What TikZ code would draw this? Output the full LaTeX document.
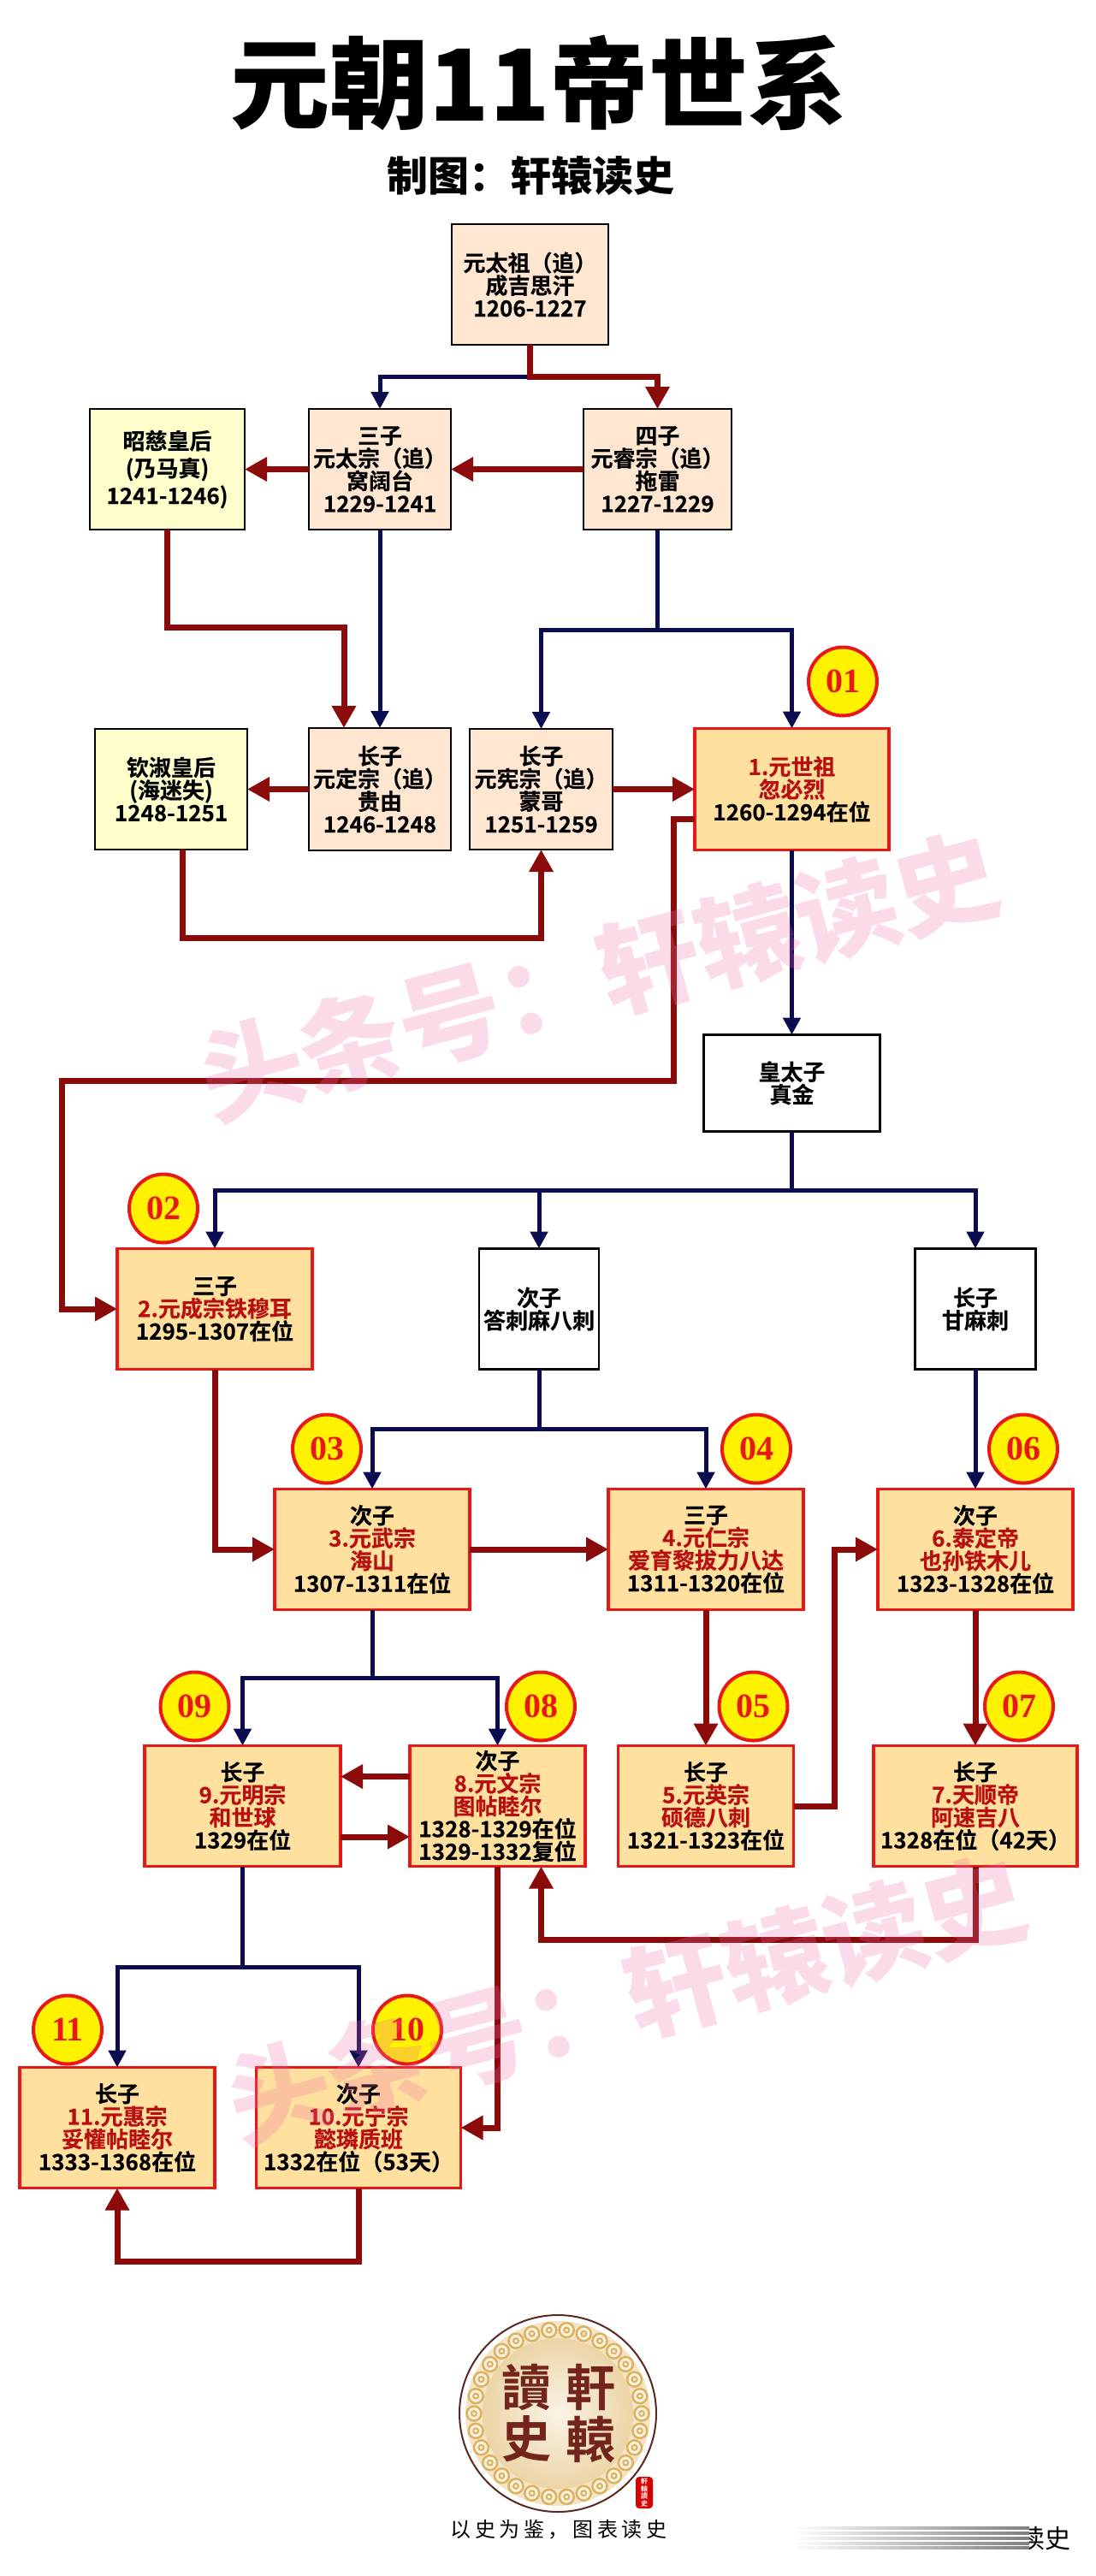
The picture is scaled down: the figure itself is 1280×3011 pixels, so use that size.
\documentclass[tikz,border=0pt]{standalone}
\usepackage{fontspec}
\usepackage{xcolor}
\usetikzlibrary{arrows.meta,positioning}
\setmainfont{Noto Sans CJK SC}
\newfontfamily\boxfont{Noto Sans CJK SC Bold}[FakeBold=0.3]
\newfontfamily\heavyfont{Noto Sans CJK SC Black}
\newfontfamily\logofont{Noto Sans CJK TC Bold}
\newfontfamily\badgefont{Liberation Serif}
\definecolor{LineageNavy}{HTML}{0B0B4F}
\definecolor{LineageRed}{HTML}{8B0A0A}
\definecolor{ReignRed}{HTML}{E81818}
\definecolor{ReignText}{HTML}{B81010}
\definecolor{ReignFill}{HTML}{FFE09E}
\definecolor{PeachFill}{HTML}{FFE6D0}
\definecolor{QueenFill}{HTML}{FFFFCC}
\definecolor{StampPink}{HTML}{F06AA8}
\definecolor{LogoBrown}{HTML}{5A2A20}
\definecolor{LogoGold}{HTML}{DDB25E}
\newcommand{\rname}[1]{\textcolor{ReignText}{#1}}

\begin{document}
\begin{tikzpicture}[
  x=1pt, y=1pt,
  kinbox/.style={
    draw=black,
    fill=white,
    line width=2.5pt,
    align=center,
    inner sep=0pt,
    outer sep=0pt,
    minimum height=141pt,
    font=\boxfont\fontsize{26}{26.5}\selectfont
  },
  peachbox/.style={kinbox, fill=PeachFill},
  queenbox/.style={kinbox, fill=QueenFill},
  reignbox/.style={kinbox, draw=ReignRed, fill=ReignFill, line width=3.5pt},
  badge/.style={
    circle,
    draw=ReignRed,
    fill=yellow,
    line width=4pt,
    inner sep=0pt,
    outer sep=0pt,
    minimum size=80pt,
    text=ReignRed,
    font=\badgefont\bfseries\fontsize{40}{40}\selectfont
  },
  kinarrow/.style={-{Triangle[length=20pt,width=20pt]}, line width=5pt, draw=LineageNavy},
  succarrow/.style={-{Triangle[length=26pt,width=27pt]}, line width=7pt, draw=LineageRed},
  stamp/.style={
    rotate=15,
    text=StampPink,
    text opacity=0.25,
    inner sep=0pt,
    font=\heavyfont\fontsize{120}{120}\selectfont
  },
  logochar/.style={text=LogoBrown!85!red, inner sep=0pt, font=\logofont\fontsize{58}{58}\selectfont},
  streak/.style={left color=white, middle color=black!12, right color=black!50}
]
\useasboundingbox (0,0) rectangle (1280,-3011);

\node[inner sep=0pt, font=\heavyfont\fontsize{116}{116}\selectfont] (title) at (630,-97) {元朝11帝世系};
\node[inner sep=0pt, below=29pt of title, xshift=-10pt, font=\heavyfont\fontsize{48}{48}\selectfont] (maker) {制图：轩辕读史};

\node[peachbox, minimum width=183pt] (taizu) at (619.5,-332.5) {元太祖（追）\\成吉思汗\\1206-1227};
\node[peachbox, minimum width=166pt, below=75pt of taizu, xshift=-175.5pt] (taizong) {三子\\元太宗（追）\\窝阔台\\1229-1241};
\node[peachbox, minimum width=173pt, below=75pt of taizu, xshift=149pt] (ruizong) {四子\\元睿宗（追）\\拖雷\\1227-1229};
\node[queenbox, minimum width=181pt, left=75pt of taizong, font=\boxfont\fontsize{26}{32}\selectfont] (zhaoci) {昭慈皇后\\(乃马真)\\1241-1246)};
\node[peachbox, minimum width=166pt, minimum height=143pt, below=232pt of taizong] (dingzong) {长子\\元定宗（追）\\贵由\\1246-1248};
\node[queenbox, minimum width=178pt, left=72pt of dingzong] (qinshu) {钦淑皇后\\(海迷失)\\1248-1251};
\node[peachbox, minimum width=167pt, right=22pt of dingzong] (xianzong) {长子\\元宪宗（追）\\蒙哥\\1251-1259};
\node[reignbox, minimum width=227pt, minimum height=142pt, right=96pt of xianzong] (shizu) {\rname{1.元世祖}\\\rname{忽必烈}\\1260-1294在位};
\node[kinbox, minimum width=206pt, minimum height=113pt, below=216pt of shizu] (zhenjin) {皇太子\\真金};
\node[kinbox, minimum width=140pt, below=137pt of zhenjin, xshift=-295.5pt] (dala) {次子\\答刺麻八刺};
\node[reignbox, minimum width=228pt, left=195pt of dala] (chengzong) {三子\\\rname{2.元成宗铁穆耳}\\1295-1307在位};
\node[kinbox, minimum width=141pt, right=369.5pt of dala] (ganmala) {长子\\甘麻刺};
\node[reignbox, minimum width=228pt, below=140pt of chengzong, xshift=184pt] (wuzong) {次子\\\rname{3.元武宗}\\\rname{海山}\\1307-1311在位};
\node[reignbox, minimum width=228pt, right=162pt of wuzong] (renzong) {三子\\\rname{4.元仁宗}\\\rname{爱育黎拔力八达}\\1311-1320在位};
\node[reignbox, minimum width=228pt, right=87pt of renzong] (taiding) {次子\\\rname{6.泰定帝}\\\rname{也孙铁木儿}\\1323-1328在位};
\node[reignbox, minimum width=229pt, below=159pt of wuzong, xshift=-151.5pt] (mingzong) {长子\\\rname{9.元明宗}\\\rname{和世球}\\1329在位};
\node[reignbox, minimum width=205pt, right=81pt of mingzong] (wenzong) {次子\\\rname{8.元文宗}\\\rname{图帖睦尔}\\1328-1329在位\\1329-1332复位};
\node[reignbox, minimum width=205pt, right=38.5pt of wenzong] (yingzong) {长子\\\rname{5.元英宗}\\\rname{硕德八刺}\\1321-1323在位};
\node[reignbox, minimum width=238pt, right=93.5pt of yingzong] (tianshun) {长子\\\rname{7.天顺帝}\\\rname{阿速吉八}\\1328在位（42天）};
\node[reignbox, minimum width=228pt, below=235pt of mingzong, xshift=-146.5pt] (huizong) {长子\\\rname{11.元惠宗}\\\rname{妥懽帖睦尔}\\1333-1368在位};
\node[reignbox, minimum width=239pt, right=48.5pt of huizong] (ningzong) {次子\\\rname{10.元宁宗}\\\rname{懿璘质班}\\1332在位（53天）};

\node[badge, above=15pt of shizu, xshift=59.5pt] (badge01) {01};
\node[badge, above=7pt of chengzong, xshift=-60pt] (badge02) {02};
\node[badge, above=7pt of wuzong, xshift=-53pt] (badge03) {03};
\node[badge, above=7pt of renzong, xshift=59pt] (badge04) {04};
\node[badge, above=6pt of yingzong, xshift=55.5pt] (badge05) {05};
\node[badge, above=7pt of taiding, xshift=56pt] (badge06) {06};
\node[badge, above=6pt of tianshun, xshift=51pt] (badge07) {07};
\node[badge, above=6pt of wenzong, xshift=50.5pt] (badge08) {08};
\node[badge, above=6pt of mingzong, xshift=-56pt] (badge09) {09};
\node[badge, above=4pt of ningzong, xshift=57pt] (badge10) {10};
\node[badge, above=4pt of huizong, xshift=-58pt] (badge11) {11};

\draw[kinarrow] (taizu.south) -- ++(0,-37) -| (taizong.north);
\draw[succarrow] (taizu.south) -- ++(0,-37) -| (ruizong.north);
\draw[succarrow] (ruizong.west) -- (taizong.east);
\draw[succarrow] (taizong.west) -- (zhaoci.east);
\draw[succarrow] (zhaoci.south) -- ++(0,-114.5) -| ([xshift=-42pt]dingzong.north);
\draw[kinarrow] (taizong.south) -- (dingzong.north);
\draw[kinarrow] (ruizong.south) -- ++(0,-117) -| (xianzong.north);
\draw[kinarrow] (ruizong.south) -- ++(0,-117) -| (shizu.north);
\draw[succarrow] (dingzong.west) -- (qinshu.east);
\draw[succarrow] ([xshift=13pt]qinshu.south) -- ++(0,-103) -| (xianzong.south);
\draw[succarrow] (xianzong.east) -- (shizu.west);
\draw[succarrow] ([yshift=-35pt]shizu.west) -- ++(-25,0) -- ++(0,-306) -- ++(-715,0) |- (chengzong.west);
\draw[kinarrow] (shizu.south) -- (zhenjin.north);
\draw[kinarrow] (zhenjin.south) -- ++(0,-69) -| (chengzong.north);
\draw[kinarrow] (zhenjin.south) -- ++(0,-69) -| (dala.north);
\draw[kinarrow] (zhenjin.south) -- ++(0,-69) -| (ganmala.north);
\draw[succarrow] (chengzong.south) |- (wuzong.west);
\draw[kinarrow] (dala.south) -- ++(0,-70) -| (wuzong.north);
\draw[kinarrow] (dala.south) -- ++(0,-70) -| (renzong.north);
\draw[succarrow] (wuzong.east) -- (renzong.west);
\draw[kinarrow] (ganmala.south) -- (taiding.north);
\draw[succarrow] (renzong.south) -- (yingzong.north);
\draw[kinarrow] (wuzong.south) -- ++(0,-80) -| (mingzong.north);
\draw[kinarrow] (wuzong.south) -- ++(0,-80) -| (wenzong.north);
\draw[succarrow] ([yshift=34.5pt]wenzong.west) -- ([yshift=34.5pt]mingzong.east);
\draw[succarrow] ([yshift=-36pt]mingzong.east) -- ([yshift=-36pt]wenzong.west);
\draw[succarrow] (yingzong.east) -- ++(47.5,0) |- (taiding.west);
\draw[succarrow] (taiding.south) -- (tianshun.north);
\draw[succarrow] (tianshun.south) -- ++(0,-86) -| ([xshift=51pt]wenzong.south);
\draw[succarrow] (wenzong.south) |- (ningzong.east);
\draw[kinarrow] (mingzong.south) -- ++(0,-118) -| (huizong.north);
\draw[kinarrow] (mingzong.south) -- ++(0,-118) -| (ningzong.north);
\draw[succarrow] (ningzong.south) -- ++(0,-86) -| (huizong.south);

\node[circle, draw=LogoBrown, line width=2pt, minimum size=230pt, inner color=white, outer color=white] (logo) at (652,-2821) {};
\fill[color=LogoGold!35] (logo.center) circle (108);
\foreach \a in {0,12,...,348} {
  \draw[LogoGold, fill=LogoGold!20, line width=2.5pt] (logo.center) ++(\a:98) circle (8.5);
  \draw[LogoGold, line width=2pt] (logo.center) ++(\a:98) circle (3);
}
\shade[inner color=LogoGold!15, outer color=LogoGold!55] (logo.center) circle (88);
\node[logochar] (logodu) at (615,-2790) {讀};
\node[logochar] (logoxuan) at (690,-2790) {軒};
\node[logochar] (logoshi) at (615,-2851) {史};
\node[logochar] (logoyuan) at (690,-2852) {轅};
\node[fill=red!85!black, rounded corners=4pt, minimum width=20pt, minimum height=37pt, inner sep=0pt, align=center, text=white, font=\logofont\fontsize{8}{8.5}\selectfont] (seal) at (753,-2913.5) {軒\\轅\\讀\\史};
\node[inner sep=0pt, font=\fontsize{24}{24}\selectfont\addfontfeature{LetterSpace=19}] (motto) at (653,-2957) {以史为鉴，图表读史};

\foreach \y in {2955,2961,2967,2973,2978}
  \shade[streak] (925,-\y-1.25) rectangle (1203,-\y+1.25);
\begin{scope}
  \clip (1203,-2990) rectangle (1270,-2945);
  \node[inner sep=0pt, anchor=east, font=\fontsize{30}{30}\selectfont] (cutmark) at (1252,-2967) {读史};
\end{scope}

\node[stamp] (stampupper) at (700,-1141) {头条号：轩辕读史};
\node[stamp] (stamplower) at (732,-2337) {头条号：轩辕读史};
\end{tikzpicture}
\end{document}
